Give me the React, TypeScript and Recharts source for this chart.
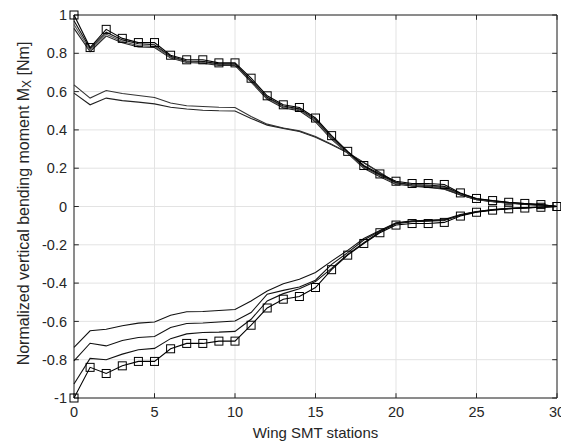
import React from 'react';
import { LineChart, Line, XAxis, YAxis, CartesianGrid, ReferenceArea, ReferenceLine } from 'recharts';

const stations = [0, 1, 2, 3, 4, 5, 6, 7, 8, 9, 10, 11, 12, 13, 14, 15, 16, 17, 18, 19, 20, 21, 22, 23, 24, 25, 26, 27, 28, 29, 30];

const upperSquares = [1.0, 0.83, 0.925, 0.878, 0.856, 0.856, 0.79, 0.766, 0.766, 0.75, 0.75, 0.67, 0.578, 0.531, 0.517, 0.462, 0.37, 0.288, 0.214, 0.17, 0.132, 0.12, 0.12, 0.115, 0.071, 0.042, 0.031, 0.022, 0.016, 0.01, 0.0];
const upperB = [0.97, 0.825, 0.91, 0.87, 0.85, 0.845, 0.785, 0.76, 0.758, 0.745, 0.745, 0.66, 0.57, 0.525, 0.51, 0.455, 0.362, 0.285, 0.21, 0.165, 0.125, 0.115, 0.112, 0.105, 0.068, 0.04, 0.03, 0.02, 0.015, 0.01, 0];
const upperC = [0.95, 0.815, 0.9, 0.862, 0.84, 0.836, 0.78, 0.755, 0.752, 0.74, 0.74, 0.655, 0.565, 0.52, 0.505, 0.448, 0.355, 0.28, 0.205, 0.16, 0.12, 0.11, 0.108, 0.1, 0.065, 0.038, 0.028, 0.019, 0.014, 0.009, 0];
const upperD = [0.93, 0.808, 0.89, 0.855, 0.833, 0.83, 0.775, 0.752, 0.748, 0.737, 0.737, 0.65, 0.56, 0.515, 0.5, 0.442, 0.35, 0.278, 0.2, 0.155, 0.115, 0.108, 0.105, 0.098, 0.062, 0.036, 0.026, 0.018, 0.013, 0.008, 0];
const upperE = [0.635, 0.566, 0.606, 0.59, 0.58, 0.569, 0.54, 0.526, 0.522, 0.518, 0.517, 0.47, 0.43, 0.41, 0.395, 0.365, 0.325, 0.282, 0.23, 0.178, 0.125, 0.108, 0.102, 0.092, 0.062, 0.038, 0.027, 0.018, 0.012, 0.007, 0];
const upperF = [0.592, 0.531, 0.566, 0.553, 0.545, 0.536, 0.518, 0.509, 0.503, 0.5, 0.499, 0.46, 0.425, 0.408, 0.392, 0.362, 0.322, 0.28, 0.228, 0.176, 0.123, 0.106, 0.1, 0.09, 0.06, 0.036, 0.025, 0.017, 0.011, 0.006, 0];

const lowerSquares = [-1.0, -0.84, -0.872, -0.832, -0.809, -0.809, -0.743, -0.715, -0.715, -0.703, -0.703, -0.62, -0.53, -0.484, -0.47, -0.423, -0.33, -0.254, -0.193, -0.137, -0.097, -0.089, -0.089, -0.083, -0.05, -0.03, -0.019, -0.012, -0.008, -0.004, 0];
const lowerB = [-0.927, -0.793, -0.8, -0.771, -0.748, -0.741, -0.69, -0.665, -0.658, -0.656, -0.652, -0.589, -0.493, -0.455, -0.43, -0.392, -0.323, -0.25, -0.189, -0.132, -0.09, -0.08, -0.077, -0.073, -0.046, -0.028, -0.018, -0.011, -0.007, -0.004, 0];
const lowerC = [-0.806, -0.714, -0.728, -0.7, -0.684, -0.679, -0.632, -0.611, -0.608, -0.603, -0.598, -0.554, -0.458, -0.438, -0.42, -0.385, -0.302, -0.241, -0.175, -0.128, -0.087, -0.077, -0.074, -0.07, -0.044, -0.027, -0.017, -0.011, -0.007, -0.003, 0];
const lowerD = [-0.736, -0.649, -0.641, -0.623, -0.609, -0.603, -0.568, -0.55, -0.548, -0.543, -0.538, -0.493, -0.441, -0.403, -0.38, -0.345, -0.285, -0.229, -0.167, -0.125, -0.085, -0.075, -0.072, -0.068, -0.042, -0.026, -0.016, -0.01, -0.006, -0.003, 0];

const xTicks = [0, 5, 10, 15, 20, 25, 30];
const yTicks = [-1, -0.8, -0.6, -0.4, -0.2, 0, 0.2, 0.4, 0.6, 0.8, 1];

const data = stations.map((s, i) => ({
  s,
  u1: upperSquares[i],
  u2: upperB[i],
  u3: upperC[i],
  u4: upperD[i],
  u5: upperE[i],
  u6: upperF[i],
  l1: lowerSquares[i],
  l2: lowerB[i],
  l3: lowerC[i],
  l4: lowerD[i],
}));

const FONT = '"Liberation Sans", Arial, sans-serif';
const AXIS = '#262626';

const SquareDot = (props: any) => {
  const { cx, cy } = props;
  if (cx == null || cy == null) return null;
  return <rect x={cx - 4} y={cy - 4} width={8} height={8} fill="none" stroke="#000" strokeWidth={1} />;
};

const fmt = (v: number) => {
  const r = Math.round(v * 10) / 10;
  return String(r);
};

const XTick = (props: any) => {
  const { x, y, payload } = props;
  return (
    <text x={x} y={y} dy="0.71em" textAnchor="middle" fill={AXIS} fontSize={14.5} fontFamily={FONT}>
      {payload.value}
    </text>
  );
};

const YTick = (props: any) => {
  const { x, y, payload } = props;
  return (
    <text x={x} y={y} dy="0.355em" textAnchor="end" fill={AXIS} fontSize={14.5} fontFamily={FONT}>
      {fmt(payload.value)}
    </text>
  );
};

const YLabel = (props: any) => {
  const vb = props.viewBox || {};
  const cx = vb.x + 15;
  const cy = vb.y + vb.height / 2 - 3;
  return (
    <text
      x={cx}
      y={cy}
      transform={`rotate(-90, ${cx}, ${cy})`}
      textAnchor="middle"
      dominantBaseline="central"
      fill={AXIS}
      fontSize={16}
      fontFamily={FONT}
    >
      <tspan>Normalized vertical bending moment M</tspan>
      <tspan fontSize={12} dy={4}>X</tspan>
      <tspan dy={-4}> [Nm]</tspan>
    </text>
  );
};

const XLabel = (props: any) => {
  const vb = props.viewBox || {};
  const cx = vb.x + vb.width / 2;
  const cy = vb.y + 34;
  return (
    <text x={cx} y={cy} textAnchor="middle" dominantBaseline="central" fill={AXIS} fontSize={15} fontFamily={FONT}>
      Wing SMT stations
    </text>
  );
};

const lineCommon = { type: 'linear' as const, isAnimationActive: false, dot: false, activeDot: false, strokeWidth: 1.1 };

export default function App() {
  return (
    <LineChart width={561} height={433} data={data} margin={{ top: 7, right: 12, bottom: 0, left: 0 }}>
      <CartesianGrid stroke="#e3e3e3" strokeWidth={1} />
      <XAxis
        dataKey="s"
        type="number"
        domain={[0, 30]}
        ticks={xTicks}
        height={43}
        axisLine={false}
        tickLine={false}
        tickSize={0}
        tickMargin={9}
        tick={<XTick />}
        label={<XLabel />}
        interval={0}
      />
      <YAxis
        type="number"
        domain={[-1, 1]}
        ticks={yTicks}
        width={66}
        axisLine={false}
        tickLine={false}
        tickSize={0}
        tickMargin={7}
        tick={<YTick />}
        label={<YLabel />}
        interval={0}
      />
      {xTicks.map((t) => (
        <ReferenceLine key={`xb${t}`} segment={[{ x: t, y: -1 }, { x: t, y: -0.975 }]} stroke={AXIS} strokeWidth={1} ifOverflow="visible" />
      ))}
      {xTicks.map((t) => (
        <ReferenceLine key={`xt${t}`} segment={[{ x: t, y: 1 }, { x: t, y: 0.975 }]} stroke={AXIS} strokeWidth={1} ifOverflow="visible" />
      ))}
      {yTicks.map((t) => (
        <ReferenceLine key={`yl${t}`} segment={[{ x: 0, y: t }, { x: 0.3, y: t }]} stroke={AXIS} strokeWidth={1} ifOverflow="visible" />
      ))}
      {yTicks.map((t) => (
        <ReferenceLine key={`yr${t}`} segment={[{ x: 30, y: t }, { x: 29.7, y: t }]} stroke={AXIS} strokeWidth={1} ifOverflow="visible" />
      ))}
      <Line dataKey="u6" stroke="#222" {...lineCommon} />
      <Line dataKey="u5" stroke="#333" {...lineCommon} />
      <Line dataKey="u4" stroke="#222" {...lineCommon} />
      <Line dataKey="u3" stroke="#555" {...lineCommon} />
      <Line dataKey="u2" stroke="#111" {...lineCommon} />
      <Line dataKey="u1" stroke="#000" {...lineCommon} dot={<SquareDot />} />
      <Line dataKey="l4" stroke="#111" {...lineCommon} />
      <Line dataKey="l3" stroke="#111" {...lineCommon} />
      <Line dataKey="l2" stroke="#111" {...lineCommon} />
      <Line dataKey="l1" stroke="#000" {...lineCommon} dot={<SquareDot />} />
      <ReferenceArea x1={0} x2={30} y1={-1} y2={1} fill="none" stroke={AXIS} strokeWidth={1} ifOverflow="visible" />
    </LineChart>
  );
}
